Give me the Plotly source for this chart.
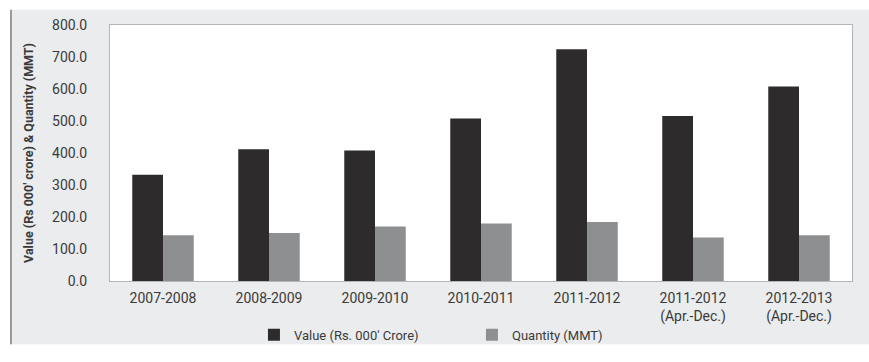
import plotly.graph_objects as go

years = ["2007-2008", "2008-2009", "2009-2010", "2010-2011", "2011-2012",
         "2011-2012<br>(Apr.-Dec.)", "2012-2013<br>(Apr.-Dec.)"]
value_rs = [332, 412, 408, 508, 724, 516, 608]
quantity_mmt = [143, 150, 170, 180, 184, 136, 143]

font_family = "Roboto"
txt = "#3a3a3a"

fig = go.Figure()
fig.add_trace(go.Bar(x=years, y=value_rs, name="Value (Rs. 000' Crore)",
                     marker_color="#2e2b2c", marker_line_width=0))
fig.add_trace(go.Bar(x=years, y=quantity_mmt, name="Quantity (MMT)",
                     marker_color="#8e8f91", marker_line_width=0))

W, H = 869, 362
L, R, T, B = 110, 17, 25, 70
pw, ph = W - L - R, H - T - B

# grey panel behind the chart (pixel edges converted to paper coords)
fig.add_shape(type="rect", xref="paper", yref="paper", layer="below",
              x0=(10 - L) / pw, x1=(W - L) / pw,
              y0=-(B - 4) / ph, y1=(ph + T - 9) / ph,
              fillcolor="#eaecee", line_width=0)
fig.add_shape(type="line", xref="paper", yref="paper", layer="below",
              x0=(11 - L) / pw, x1=(11 - L) / pw,
              y0=-(B - 4) / ph, y1=(ph + T - 9) / ph,
              line=dict(color="#9a9a9a", width=2))
# white plotting area
fig.add_shape(type="rect", xref="paper", yref="paper", layer="below",
              x0=0, x1=1, y0=0, y1=1, fillcolor="white", line_width=0)

fig.update_layout(
    width=W, height=H,
    margin=dict(l=L, r=R, t=T, b=B),
    barmode="group", bargap=0.42, bargroupgap=0,
    paper_bgcolor="white", plot_bgcolor="white",
    font=dict(family=font_family, size=13, color=txt),
    showlegend=True,
    legend=dict(orientation="h", x=0.194, xanchor="left", y=-0.21, yanchor="middle",
                entrywidth=173, font=dict(size=13, color=txt),
                bgcolor="rgba(0,0,0,0)", itemwidth=30),
    xaxis=dict(showline=True, linecolor="#b5b5b5", linewidth=1, mirror=True,
               ticks="", ticklabelstandoff=4, tickfont=dict(size=14)),
    yaxis=dict(range=[0, 800], dtick=100, tickformat=".1f", showgrid=False,
               showline=True, linecolor="#b5b5b5", linewidth=1, mirror=True,
               ticks="", ticklabelstandoff=19, tickfont=dict(size=14),
               title=dict(text="<b>Value (Rs 000' crore) & Quantity (MMT)</b>",
                          font=dict(size=12.5, color=txt), standoff=15)),
)

# drop the default body margin so the figure sits at the page origin
fig.write_html("out.html", config={"displayModeBar": False},
               post_script="document.body.style.margin='0';")
